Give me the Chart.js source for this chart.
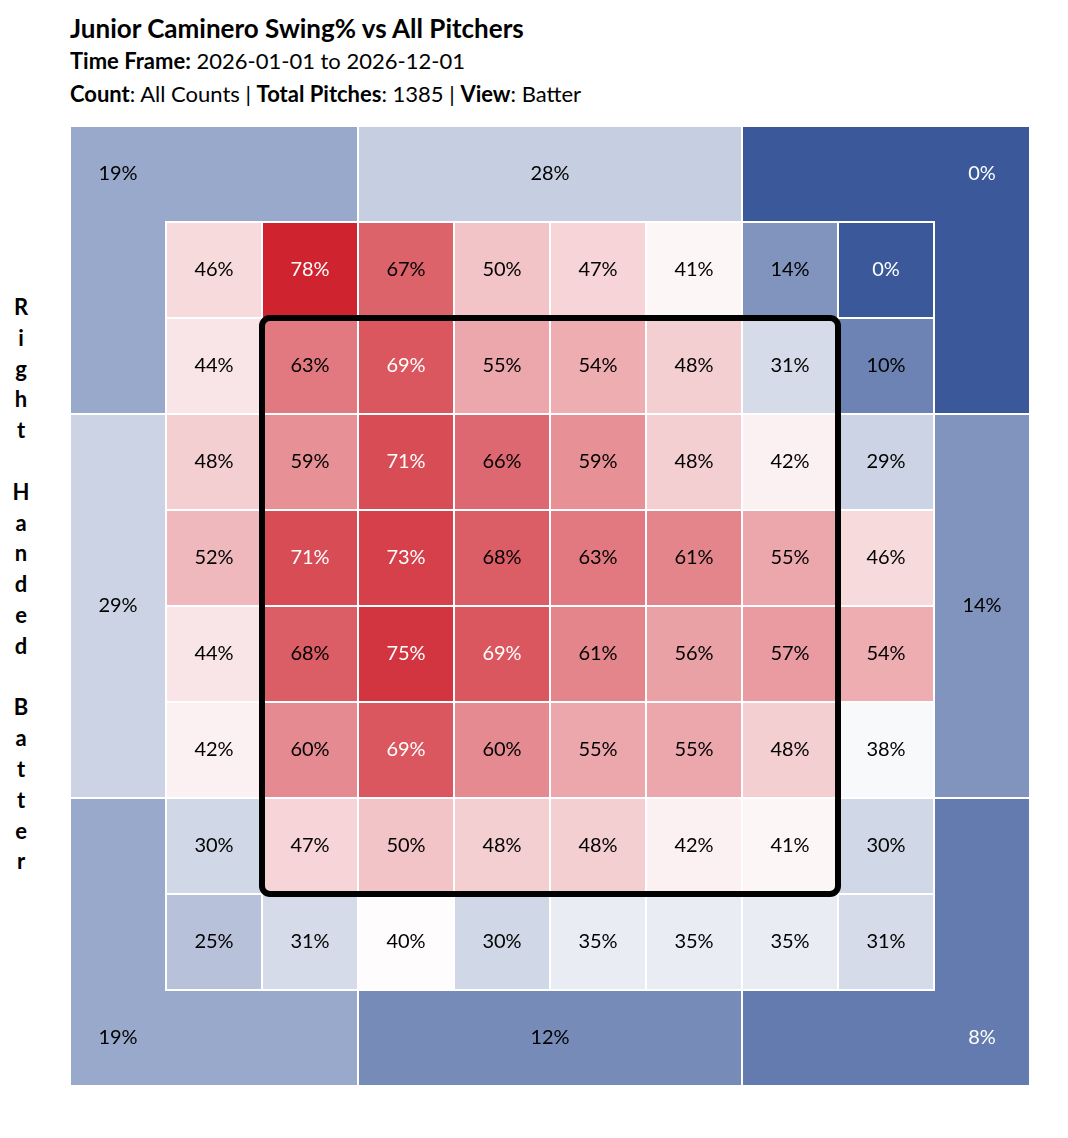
<!DOCTYPE html>
<html>
<head>
<meta charset="utf-8">
<script src="https://cdn.jsdelivr.net/npm/chart.js@4.4.1/dist/chart.umd.min.js"></script>
<style>
  html, body { margin: 0; padding: 0; background: #fff; }
  body { width: 1068px; height: 1138px; position: relative; font-family: Lato, "Noto Sans", sans-serif; color: #000; }
  .head { position: absolute; left: 70px; top: 12px; }
  .head h1 { margin: 0; font-size: 26px; font-weight: 700; line-height: 32px; }
  .head p { margin: 0; font-size: 22px; line-height: 33px; }
  .side { position: absolute; left: 7px; top: 292px; width: 28px; text-align: center; font-weight: 700; font-size: 22px; line-height: 30.8px; }
  .wrap { position: absolute; left: 70px; top: 126px; width: 960px; height: 960px; }
</style>
</head>
<body>
<div class="head">
  <h1>Junior Caminero Swing% vs All Pitchers</h1>
  <p><b>Time Frame:</b> 2026-01-01 to 2026-12-01</p>
  <p><b>Count</b>: All Counts | <b>Total Pitches</b>: 1385 | <b>View</b>: Batter</p>
</div>
<div class="side" id="side"></div>
<div class="wrap"><canvas id="zone"></canvas></div>
<script>
// swing% by zone, rows top to bottom, columns left to right
const innerRows = [
  [46, 78, 67, 50, 47, 41, 14, 0],
  [44, 63, 69, 55, 54, 48, 31, 10],
  [48, 59, 71, 66, 59, 48, 42, 29],
  [52, 71, 73, 68, 63, 61, 55, 46],
  [44, 68, 75, 69, 61, 56, 57, 54],
  [42, 60, 69, 60, 55, 55, 48, 38],
  [30, 47, 50, 48, 48, 42, 41, 30],
  [25, 31, 40, 30, 35, 35, 35, 31],
];
const outerNames = ['topLeft', 'topMid', 'topRight', 'midLeft', 'midRight', 'botLeft', 'botMid', 'botRight'];
const outerValues = [19, 28, 0, 29, 14, 19, 12, 8];
const sideLabel = 'Right Handed Batter';

// zone shapes in grid units (10 x 10, inner grid from 1 to 9)
const outerShapes = {
  topLeft:  { x0: 0, x1: 3, y0: 0, y1: 3, lx: 0.5, ly: 0.5 },
  topMid:   { x0: 3, x1: 7, y0: 0, y1: 1, lx: 5, ly: 0.5 },
  topRight: { x0: 7, x1: 10, y0: 0, y1: 3, lx: 9.5, ly: 0.5 },
  midLeft:  { x0: 0, x1: 1, y0: 3, y1: 7, lx: 0.5, ly: 5 },
  midRight: { x0: 9, x1: 10, y0: 3, y1: 7, lx: 9.5, ly: 5 },
  botLeft:  { x0: 0, x1: 3, y0: 7, y1: 10, lx: 0.5, ly: 9.5 },
  botMid:   { x0: 3, x1: 7, y0: 9, y1: 10, lx: 5, ly: 9.5 },
  botRight: { x0: 7, x1: 10, y0: 7, y1: 10, lx: 9.5, ly: 9.5 },
};

const side = document.getElementById('side');
side.innerHTML = sideLabel.split('').map(c => c === ' ' ? '&nbsp;' : c).join('<br>');

const LOW = [59, 89, 154];
const MID = [255, 255, 255];
const HIGH = [207, 36, 48];
const MIN_V = 0, MID_V = 39.5, MAX_V = 78;

function mix(a, b, t) {
  t = Math.max(0, Math.min(1, t));
  return a.map((v, i) => Math.round(v + (b[i] - v) * t));
}
function colorFor(v) {
  const c = v < MID_V
    ? mix(LOW, MID, (v - MIN_V) / (MID_V - MIN_V))
    : mix(MID, HIGH, (v - MID_V) / (MAX_V - MID_V));
  return `rgb(${c[0]}, ${c[1]}, ${c[2]})`;
}
function textFor(v) {
  return (v >= 69 || v <= 8) ? '#fff' : '#000';
}

function cellRect(scales, x0, x1, y0, y1) {
  const { x, y } = scales;
  const px0 = x.getPixelForValue(x0), px1 = x.getPixelForValue(x1);
  const py0 = y.getPixelForValue(y0), py1 = y.getPixelForValue(y1);
  return { left: Math.min(px0, px1), top: Math.min(py0, py1), w: Math.abs(px1 - px0), h: Math.abs(py1 - py0) };
}

const zonePlugin = {
  id: 'zonePlugin',
  beforeDatasetsDraw(chart) {
    const ctx = chart.ctx;
    const scales = chart.scales;
    ctx.save();
    ctx.strokeStyle = '#fff';
    ctx.lineWidth = 2;
    outerNames.forEach((name, i) => {
      const s = outerShapes[name];
      const r = cellRect(scales, s.x0, s.x1, s.y0, s.y1);
      ctx.fillStyle = colorFor(outerValues[i]);
      ctx.fillRect(r.left, r.top, r.w, r.h);
      ctx.strokeRect(r.left, r.top, r.w, r.h);
    });
    innerRows.forEach((row, ri) => {
      row.forEach((v, ci) => {
        const r = cellRect(scales, ci + 1, ci + 2, ri + 1, ri + 2);
        ctx.fillStyle = colorFor(v);
        ctx.fillRect(r.left, r.top, r.w, r.h);
        ctx.strokeRect(r.left, r.top, r.w, r.h);
      });
    });
    ctx.restore();
  },
  afterDatasetsDraw(chart) {
    const ctx = chart.ctx;
    const { x, y } = chart.scales;
    ctx.save();
    ctx.font = '20px Lato, "Noto Sans", sans-serif';
    ctx.textAlign = 'center';
    ctx.textBaseline = 'middle';
    outerNames.forEach((name, i) => {
      const s = outerShapes[name];
      ctx.fillStyle = textFor(outerValues[i]);
      ctx.fillText(outerValues[i] + '%', x.getPixelForValue(s.lx), y.getPixelForValue(s.ly));
    });
    innerRows.forEach((row, ri) => {
      row.forEach((v, ci) => {
        ctx.fillStyle = textFor(v);
        ctx.fillText(v + '%', x.getPixelForValue(ci + 1.5), y.getPixelForValue(ri + 1.5));
      });
    });

    // strike zone
    const sz = cellRect(chart.scales, 2, 8, 2, 8);
    ctx.strokeStyle = '#000';
    ctx.lineWidth = 6;
    ctx.beginPath();
    ctx.roundRect(sz.left, sz.top, sz.w, sz.h, 8);
    ctx.stroke();
    ctx.restore();
  },
};

new Chart(document.getElementById('zone'), {
  type: 'scatter',
  data: { datasets: [] },
  options: {
    responsive: true,
    maintainAspectRatio: false,
    animation: false,
    layout: { padding: 0 },
    plugins: { legend: { display: false }, tooltip: { enabled: false } },
    scales: {
      x: { type: 'linear', min: 0, max: 10, display: false },
      y: { type: 'linear', min: 0, max: 10, reverse: true, display: false },
    },
  },
  plugins: [zonePlugin],
});
</script>
</body>
</html>
